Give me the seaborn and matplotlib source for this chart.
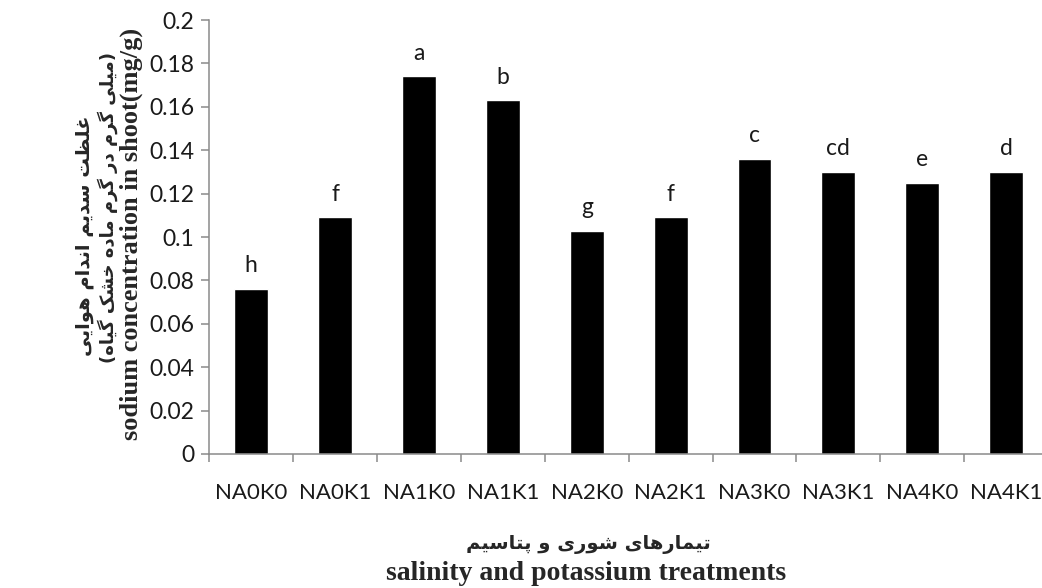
import matplotlib
matplotlib.use("Agg")
import matplotlib.pyplot as plt
from matplotlib.ticker import FixedLocator, FuncFormatter
import seaborn as sns
import pandas as pd

# Treatments, sodium concentration in shoot (mg/g) and significance letters
treatments = ["NA0K0", "NA0K1", "NA1K0", "NA1K1", "NA2K0",
              "NA2K1", "NA3K0", "NA3K1", "NA4K0", "NA4K1"]
sodium = [0.076, 0.109, 0.174, 0.163, 0.103,
          0.109, 0.136, 0.130, 0.125, 0.130]
letters = ["h", "f", "a", "b", "g", "f", "c", "cd", "e", "d"]
y_ticks = [0, 0.02, 0.04, 0.06, 0.08, 0.1, 0.12, 0.14, 0.16, 0.18, 0.2]

ylabel_fa_1 = "غلظت سدیم اندام هوایی"
ylabel_fa_2 = "(میلی گرم در گرم ماده خشک گیاه)"
ylabel_en = "sodium concentration in shoot(mg/g)"
xlabel_fa = "تیمارهای شوری و پتاسیم"
xlabel_en = "salinity and potassium treatments"

# Contextual forms (isolated, final, initial, medial) for the Persian letters used
FORMS = {
    "ا": ("\uFE8D", "\uFE8E", None, None),
    "د": ("\uFEA9", "\uFEAA", None, None),
    "ر": ("\uFEAD", "\uFEAE", None, None),
    "و": ("\uFEED", "\uFEEE", None, None),
    "ت": ("\uFE95", "\uFE96", "\uFE97", "\uFE98"),
    "خ": ("\uFEA5", "\uFEA6", "\uFEA7", "\uFEA8"),
    "س": ("\uFEB1", "\uFEB2", "\uFEB3", "\uFEB4"),
    "ش": ("\uFEB5", "\uFEB6", "\uFEB7", "\uFEB8"),
    "ظ": ("\uFEC5", "\uFEC6", "\uFEC7", "\uFEC8"),
    "غ": ("\uFECD", "\uFECE", "\uFECF", "\uFED0"),
    "ل": ("\uFEDD", "\uFEDE", "\uFEDF", "\uFEE0"),
    "م": ("\uFEE1", "\uFEE2", "\uFEE3", "\uFEE4"),
    "ن": ("\uFEE5", "\uFEE6", "\uFEE7", "\uFEE8"),
    "ه": ("\uFEE9", "\uFEEA", "\uFEEB", "\uFEEC"),
    "پ": ("\uFB56", "\uFB57", "\uFB58", "\uFB59"),
    "ک": ("\uFB8E", "\uFB8F", "\uFB90", "\uFB91"),
    "گ": ("\uFB92", "\uFB93", "\uFB94", "\uFB95"),
    "ی": ("\uFBFC", "\uFBFD", "\uFBFE", "\uFBFF"),
}
MIRROR = {"(": ")", ")": "("}


def rtl(text):
    """Join Persian letters and return the string in visual (left-to-right) order."""
    shaped = []
    for i, ch in enumerate(text):
        if ch not in FORMS:
            shaped.append(ch)
            continue
        prev = text[i - 1] if i > 0 else None
        nxt = text[i + 1] if i + 1 < len(text) else None
        join_prev = prev in FORMS and FORMS[prev][2] is not None
        join_next = FORMS[ch][2] is not None and nxt in FORMS
        iso, fin, ini, med = FORMS[ch]
        if join_prev and join_next:
            shaped.append(med)
        elif join_prev:
            shaped.append(fin)
        elif join_next:
            shaped.append(ini)
        else:
            shaped.append(iso)
    return "".join(MIRROR.get(c, c) for c in reversed(shaped))


sns.set_style("white")
plt.rcParams["font.family"] = ["Lato", "DejaVu Sans"]

df = pd.DataFrame({"treatment": treatments, "sodium": sodium})

fig = plt.figure(figsize=(10.42, 5.88), dpi=100)
ax = fig.add_axes([0.2009, 0.2279, 0.8049, 0.738])

sns.barplot(data=df, x="treatment", y="sodium", color="black",
            saturation=1, width=0.405, ax=ax)

ax.set_xlim(-0.5, len(treatments) - 0.5)
ax.set_ylim(0, 0.2)

axis_grey = "#8a8a8a"
for side in ["top", "right"]:
    ax.spines[side].set_visible(False)
for side in ["left", "bottom"]:
    ax.spines[side].set_color(axis_grey)
    ax.spines[side].set_linewidth(1.1)

ax.yaxis.set_major_locator(FixedLocator(y_ticks))
ax.yaxis.set_major_formatter(FuncFormatter(lambda v, p: f"{v:g}"))
ax.tick_params(axis="y", which="major", direction="out", length=6, width=1.1,
               color=axis_grey, labelsize=16.5, labelcolor="#1a1a1a", pad=5, left=True)

# Category labels in the middle, tick marks on the category boundaries
ax.set_xticks(range(len(treatments)))
ax.set_xticklabels(treatments)
ax.set_xticks([i - 0.5 for i in range(len(treatments) + 1)], minor=True)
ax.tick_params(axis="x", which="major", length=0, labelsize=16,
               labelcolor="#1a1a1a", pad=21)
ax.tick_params(axis="x", which="minor", direction="out", length=6, width=1.1,
               color=axis_grey, bottom=True)

ax.set_xlabel("")
ax.set_ylabel("")

for i, (v, lab) in enumerate(zip(sodium, letters)):
    ax.annotate(lab, xy=(i, v), xytext=(0, 12), textcoords="offset points",
                ha="center", va="baseline", fontsize=16.5, color="#1a1a1a")

fa_font_1 = dict(family="DejaVu Sans", fontweight="bold", fontsize=14)
fa_font_2 = dict(family="DejaVu Sans", fontweight="bold", fontsize=13)
en_font = dict(family="Liberation Serif", fontweight="bold", fontsize=19)

fig.text(85 / 1042, 1 - 236 / 588, rtl(ylabel_fa_1), rotation=90,
         ha="center", va="center", **fa_font_1)
fig.text(108 / 1042, 1 - 208 / 588, rtl(ylabel_fa_2), rotation=90,
         ha="center", va="center", **fa_font_2)
fig.text(131 / 1042, 1 - 234 / 588, ylabel_en, rotation=90,
         ha="center", va="center", **en_font)

fig.text(588 / 1042, 1 - 545 / 588, rtl(xlabel_fa),
         ha="center", va="center", **fa_font_1)
fig.text(586 / 1042, 1 - 573 / 588, xlabel_en,
         ha="center", va="center", fontsize=20,
         family="Liberation Serif", fontweight="bold")

fig.savefig("out.png", dpi=100)
